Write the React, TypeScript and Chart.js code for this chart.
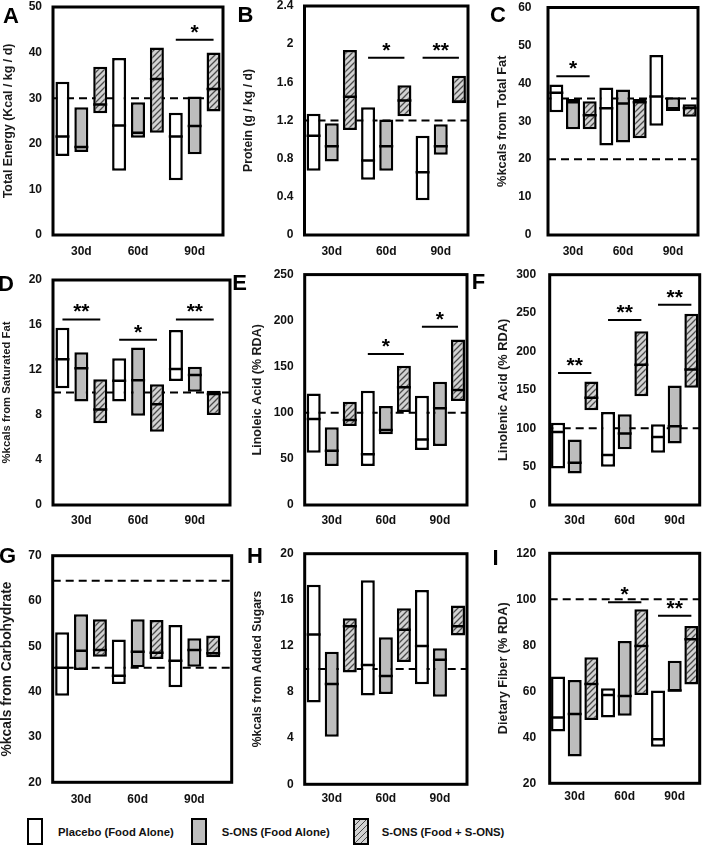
import React, { useEffect, useRef } from 'react';
import { Chart, registerables } from 'chart.js';
Chart.register(...registerables);

const FONT = '"Liberation Sans", Arial, sans-serif';

const groups = ['30d', '60d', '90d'];
const seriesNames = ['Placebo (Food Alone)', 'S-ONS (Food Alone)', 'S-ONS (Food + S-ONS)'];

// each entry: [min, max, median] for 30d, 60d, 90d
const energyPlacebo = [[17.3, 33.6, 21.6], [14.1, 38.8, 24.0], [12.0, 26.8, 21.6]];
const energyFood = [[18.2, 28.0, 19.3], [21.3, 29.1, 22.4], [17.7, 30.4, 23.9]];
const energyCombo = [[26.7, 36.9, 28.6], [22.4, 41.1, 34.2], [27.1, 40.0, 32.0]];
const energyTicks = [0, 10, 20, 30, 40, 50];
const energyRefs = [30];
const energySig = [[2, 42.8, '*']];

const proteinPlacebo = [[0.674, 1.27, 1.04], [0.58, 1.34, 0.78], [0.363, 1.04, 0.657]];
const proteinFood = [[0.77, 1.17, 0.93], [0.674, 1.21, 0.93], [0.84, 1.16, 0.93]];
const proteinCombo = [[1.1, 1.94, 1.45], [1.245, 1.57, 1.41], [1.38, 1.67, 1.4]];
const proteinTicks = [0, 0.4, 0.8, 1.2, 1.6, 2, 2.4];
const proteinRefs = [1.2];
const proteinSig = [[1, 1.857, '*'], [2, 1.857, '**']];

const fatPlacebo = [[32.4, 39.7, 37.5], [23.6, 38.9, 33.4], [28.8, 47.5, 36.5]];
const fatFood = [[27.9, 35.9, 35.0], [24.4, 38.4, 34.7], [32.7, 36.3, 33.4]];
const fatCombo = [[27.9, 35.3, 31.6], [25.5, 35.9, 35.0], [31.2, 34.5, 33.5]];
const fatTicks = [0, 10, 20, 30, 40, 50, 60];
const fatRefs = [20, 36];
const fatSig = [[0, 41.9, '*']];

const satPlacebo = [[10.37, 15.76, 12.95], [9.19, 13.04, 11.05], [11.02, 15.56, 12.09]];
const satFood = [[9.19, 13.57, 12.15], [7.94, 14.0, 11.1], [10.07, 12.3, 11.56]];
const satCombo = [[7.26, 11.17, 8.5], [6.52, 10.73, 8.95], [8.0, 10.16, 9.87]];
const satTicks = [0, 4, 8, 12, 16, 20];
const satRefs = [10];
const satSig = [[0, 16.5, '**'], [1, 14.7, '*'], [2, 16.5, '**']];

const linoleicPlacebo = [[56.8, 121, 93.3], [42.3, 124, 55], [59.7, 118.6, 71.2]];
const linoleicFood = [[42.3, 84.3, 59], [76.7, 107.4, 81.4], [64, 133.8, 104.9]];
const linoleicCombo = [[85.7, 112, 92.2], [101, 151, 127.7], [112.8, 179.7, 124.8]];
const linoleicTicks = [0, 50, 100, 150, 200, 250];
const linoleicRefs = [100];
const linoleicSig = [[1, 163.8, '*'], [2, 193.5, '*']];

const linolenicPlacebo = [[47.6, 107, 95], [49.8, 121.2, 65], [68, 105.2, 88.7]];
const linolenicFood = [[41.1, 85.3, 55], [72.7, 118.2, 93], [80, 155.8, 102.6]];
const linolenicCombo = [[123.4, 161, 139.8], [141.6, 226.4, 182.7], [152.8, 249, 176.6]];
const linolenicTicks = [0, 50, 100, 150, 200, 250, 300];
const linolenicRefs = [100];
const linolenicSig = [[0, 171.9, '**'], [1, 241, '**'], [2, 261, '**']];

const carbPlacebo = [[39.1, 53.1, 45.3], [41.7, 51.5, 43.5], [41.0, 54.7, 46.8]];
const carbFood = [[44.8, 57.1, 49.0], [45.4, 56.0, 48.8], [45.5, 51.8, 49.2]];
const carbCombo = [[47.7, 56.0, 49.2], [47.2, 55.8, 48.6], [47.6, 52.4, 48.5]];
const carbTicks = [20, 30, 40, 50, 60, 70];
const carbRefs = [45.3, 64.5];
const carbSig: any[] = [];

const sugarPlacebo = [[7.1, 17.3, 13.0], [7.7, 17.7, 10.35], [8.67, 16.85, 12.0]];
const sugarFood = [[4.13, 11.5, 8.7], [7.83, 12.75, 9.4], [7.6, 11.8, 10.8]];
const sugarCombo = [[9.7, 14.4, 13.7], [10.6, 15.26, 13.4], [12.9, 15.5, 13.7]];
const sugarTicks = [0, 4, 8, 12, 16, 20];
const sugarRefs = [10];
const sugarSig: any[] = [];

const fiberPlacebo = [[42.5, 66.4, 48.6], [48.6, 61.3, 58.4], [35.9, 60.3, 39.1]];
const fiberFood = [[31.6, 64.9, 50.1], [49.4, 81.9, 58], [59.9, 73.3, 60.3]];
const fiberCombo = [[47.5, 74.8, 63.2], [58.4, 95.7, 79.7], [63, 88.4, 82.6]];
const fiberTicks = [20, 40, 60, 80, 100, 120];
const fiberRefs = [100];
const fiberSig = [[1, 98.7, '*'], [2, 92.8, '**']];

// layout (page pixels)
const COLS = [[0, 237], [237, 471], [471, 702]];
const ROWS = [[0, 268], [268, 541], [541, 812]];

const panels = [
  { letter: 'A', lx: 11, ly: 16, title: 'Total Energy (Kcal / kg / d)', tSize: 12.4, tX: 8.5, tickPad: 11, xPad: 9,
    col: 0, row: 0, plot: { l: 53, r: 223, t: 7, b: 235 }, xMax: 2.5,
    series: [energyPlacebo, energyFood, energyCombo], ticks: energyTicks, refs: energyRefs, sig: energySig },
  { letter: 'B', lx: 245.5, ly: 14.5, title: 'Protein (g / kg / d)', tSize: 12.2, tX: 249, tickPad: 11, xPad: 9,
    col: 1, row: 0, plot: { l: 304.5, r: 468, t: 6, b: 235 }, xMax: 2.5,
    series: [proteinPlacebo, proteinFood, proteinCombo], ticks: proteinTicks, refs: proteinRefs, sig: proteinSig },
  { letter: 'C', lx: 498, ly: 14.5, title: '%kcals from Total Fat', tSize: 12.8, tX: 502, tickPad: 16.5, xPad: 9,
    col: 2, row: 0, plot: { l: 548, r: 698, t: 7.5, b: 235 }, xMax: 2.5,
    series: [fatPlacebo, fatFood, fatCombo], ticks: fatTicks, refs: fatRefs, sig: fatSig },
  { letter: 'D', lx: 6, ly: 283.5, title: '%kcals from Saturated Fat', tSize: 11.3, tX: 7.3, tickPad: 11, xPad: 8,
    col: 0, row: 1, plot: { l: 53, r: 230, t: 280, b: 505 }, xMax: 2.62,
    series: [satPlacebo, satFood, satCombo], ticks: satTicks, refs: satRefs, sig: satSig },
  { letter: 'E', lx: 239.5, ly: 282.5, title: 'Linoleic Acid (% RDA)', tSize: 12.5, tX: 258, tickPad: 11, xPad: 8,
    col: 1, row: 1, plot: { l: 304.7, r: 467, t: 274.6, b: 505 }, xMax: 2.5,
    series: [linoleicPlacebo, linoleicFood, linoleicCombo], ticks: linoleicTicks, refs: linoleicRefs, sig: linoleicSig },
  { letter: 'F', lx: 478.5, ly: 281.5, title: 'Linolenic Acid (% RDA)', tSize: 12.8, tX: 503, tickPad: 13.5, xPad: 8,
    col: 2, row: 1, plot: { l: 549.7, r: 699.7, t: 274.7, b: 505 }, xMax: 2.5,
    series: [linolenicPlacebo, linolenicFood, linolenicCombo], ticks: linolenicTicks, refs: linolenicRefs, sig: linolenicSig },
  { letter: 'G', lx: 7.5, ly: 555.5, title: '%kcals from Carbohydrate', tSize: 13.8, tX: 7.3, tickPad: 11, xPad: 10,
    col: 0, row: 2, plot: { l: 52.7, r: 231.7, t: 555.7, b: 782.3 }, xMax: 2.66,
    series: [carbPlacebo, carbFood, carbCombo], ticks: carbTicks, refs: carbRefs, sig: carbSig },
  { letter: 'H', lx: 255, ly: 556, title: '%kcals from Added Sugars', tSize: 12.1, tX: 258, tickPad: 11, xPad: 7,
    col: 1, row: 2, plot: { l: 304.7, r: 467, t: 553.7, b: 784.3 }, xMax: 2.5,
    series: [sugarPlacebo, sugarFood, sugarCombo], ticks: sugarTicks, refs: sugarRefs, sig: sugarSig },
  { letter: 'I', lx: 495.5, ly: 557.5, title: 'Dietary Fiber (% RDA)', tSize: 12.7, tX: 503, tickPad: 13.5, xPad: 6,
    col: 2, row: 2, plot: { l: 549.7, r: 699.7, t: 553.3, b: 783.3 }, xMax: 2.5,
    series: [fiberPlacebo, fiberFood, fiberCombo], ticks: fiberTicks, refs: fiberRefs, sig: fiberSig },
];

const BAR_W = 14;
const GRAY = '#bdbdbd';
const HATCH_BG = '#d2d2d2';
const HATCH_FG = '#4a4a4a';

function makeHatch(ctx: CanvasRenderingContext2D) {
  const c = document.createElement('canvas');
  c.width = 6;
  c.height = 6;
  const g = c.getContext('2d')!;
  g.fillStyle = HATCH_BG;
  g.fillRect(0, 0, 6, 6);
  g.strokeStyle = HATCH_FG;
  g.lineWidth = 1.3;
  g.beginPath();
  g.moveTo(0, 6); g.lineTo(6, 0);
  g.moveTo(-3, 3); g.lineTo(3, -3);
  g.moveTo(3, 9); g.lineTo(9, 3);
  g.stroke();
  return ctx.createPattern(c, 'repeat');
}

function PanelChart({ p }: { p: any }) {
  const ref = useRef<HTMLCanvasElement>(null);
  const [cl, cr] = COLS[p.col];
  const [ct, cb] = ROWS[p.row];
  const w = cr - cl;
  const h = cb - ct;

  useEffect(() => {
    const canvas = ref.current!;
    const ctx0 = canvas.getContext('2d')!;
    const hatch = makeHatch(ctx0);
    const unit = (p.plot.r - p.plot.l) / (p.xMax + 0.5);
    const barPct = BAR_W / (unit / 3);
    const fills = ['#ffffff', GRAY, hatch];

    const datasets = p.series.map((s: number[][], si: number) => ({
      label: seriesNames[si],
      data: s.map((v, gi) => ({ x: gi, y: [v[0], v[1]] })),
      backgroundColor: fills[si],
      borderColor: '#000',
      borderWidth: 2.5,
      borderSkipped: false,
      borderRadius: 0,
      categoryPercentage: 1,
      barPercentage: barPct,
    }));

    const decor = {
      id: 'decor',
      beforeDatasetsDraw(chart: any) {
        const { ctx, chartArea: a } = chart;
        const y = chart.scales.y;
        ctx.save();
        ctx.strokeStyle = '#000';
        ctx.lineWidth = 2;
        ctx.setLineDash([8, 5]);
        for (const r of p.refs) {
          const py = y.getPixelForValue(r);
          ctx.beginPath();
          ctx.moveTo(a.left, py);
          ctx.lineTo(a.right, py);
          ctx.stroke();
        }
        ctx.restore();
      },
      afterDatasetsDraw(chart: any) {
        const { ctx, chartArea: a } = chart;
        const y = chart.scales.y;
        ctx.save();
        ctx.strokeStyle = '#000';
        ctx.lineWidth = 2.5;
        ctx.beginPath();
        p.series.forEach((s: number[][], si: number) => {
          const meta = chart.getDatasetMeta(si);
          s.forEach((v, gi) => {
            const bar = meta.data[gi];
            const { x, width } = bar.getProps(['x', 'width'], true);
            const py = y.getPixelForValue(v[2]);
            ctx.moveTo(x - width / 2, py);
            ctx.lineTo(x + width / 2, py);
          });
        });
        ctx.stroke();
        ctx.lineWidth = 3;
        ctx.strokeRect(a.left, a.top, a.right - a.left, a.bottom - a.top);
        for (const [g, v, label] of p.sig) {
          const x1 = chart.getDatasetMeta(0).data[g].x;
          const x2 = chart.getDatasetMeta(2).data[g].x;
          const py = y.getPixelForValue(v);
          ctx.lineWidth = 2;
          ctx.beginPath();
          ctx.moveTo(x1, py);
          ctx.lineTo(x2, py);
          ctx.stroke();
          ctx.fillStyle = '#000';
          ctx.font = `bold 21px ${FONT}`;
          ctx.textAlign = 'center';
          ctx.textBaseline = 'alphabetic';
          ctx.fillText(label, (x1 + x2) / 2, py - 1);
        }
        ctx.restore();
      },
    };

    const chart = new Chart(canvas, {
      type: 'bar',
      data: { datasets },
      options: {
        responsive: false,
        animation: false,
        events: [],
        layout: { padding: { top: p.plot.t - ct, right: cr - p.plot.r, left: 0, bottom: 0 } },
        plugins: { legend: { display: false }, tooltip: { enabled: false }, title: { display: false } },
        scales: {
          x: {
            type: 'linear',
            min: -0.5,
            max: p.xMax,
            offset: false,
            grid: { display: false, drawTicks: false },
            border: { display: false },
            ticks: {
              padding: p.xPad,
              maxRotation: 0,
              autoSkip: false,
              color: '#111',
              font: { family: FONT, size: 12, weight: 'bold' },
              callback: (v: any) => groups[v] ?? '',
            },
            afterBuildTicks: (s: any) => {
              s.ticks = groups.map((_, i) => ({ value: i }));
            },
            afterFit: (s: any) => {
              s.height = cb - p.plot.b;
              s.paddingLeft = 0;
              s.paddingRight = 0;
            },
          },
          y: {
            type: 'linear',
            min: p.ticks[0],
            max: p.ticks[p.ticks.length - 1],
            grid: { display: false, drawTicks: false },
            border: { display: false },
            ticks: {
              padding: p.tickPad,
              color: '#111',
              font: { family: FONT, size: 12, weight: 'bold' },
              callback: (v: any) => String(v),
            },
            afterBuildTicks: (s: any) => {
              s.ticks = p.ticks.map((v: number) => ({ value: v }));
            },
            afterFit: (s: any) => {
              s.width = p.plot.l - cl;
              s.paddingTop = 0;
              s.paddingBottom = 0;
            },
            title: {
              display: true,
              text: p.title,
              color: '#1a1a1a',
              font: { family: FONT, size: p.tSize, weight: 'bold', lineHeight: 1 },
              padding: { top: Math.max(0, p.tX - cl - p.tSize / 2), bottom: 0 },
            },
          },
        },
      },
      plugins: [decor],
    } as any);
    return () => chart.destroy();
  }, []);

  return (
    <canvas
      ref={ref}
      width={w}
      height={h}
      style={{ position: 'absolute', left: cl, top: ct, width: w, height: h }}
    />
  );
}

const legendItems = [
  { box: 26.7, text: 58, fill: '#ffffff' },
  { box: 191, text: 221.7, fill: GRAY },
  { box: 352.7, text: 381.7, fill: `repeating-linear-gradient(135deg, ${HATCH_BG} 0px, ${HATCH_BG} 2.9px, ${HATCH_FG} 2.9px, ${HATCH_FG} 4.24px)` },
];

export default function App() {
  return (
    <div style={{ position: 'fixed', left: 0, top: 0, width: 702, height: 848, background: '#fff', overflow: 'hidden' }}>
      {panels.map((p) => (
        <PanelChart key={p.letter} p={p} />
      ))}
      {panels.map((p) => (
        <div
          key={'L' + p.letter}
          style={{
            position: 'absolute', left: p.lx, top: p.ly - 10.7, transform: 'translateX(-50%)',
            font: `bold 22px ${FONT}`, lineHeight: '22px', color: '#000', whiteSpace: 'nowrap',
          }}
        >
          {p.letter}
        </div>
      ))}
      {legendItems.map((it, i) => (
        <React.Fragment key={'g' + i}>
          <div
            style={{
              position: 'absolute', left: it.box, top: 818, width: 16, height: 27,
              border: '2.5px solid #000', boxSizing: 'border-box', background: it.fill,
            }}
          />
          <div
            style={{
              position: 'absolute', left: it.text, top: 824.5, font: `bold 11.3px ${FONT}`,
              lineHeight: '14px', color: '#111', whiteSpace: 'nowrap',
            }}
          >
            {seriesNames[i]}
          </div>
        </React.Fragment>
      ))}
    </div>
  );
}
